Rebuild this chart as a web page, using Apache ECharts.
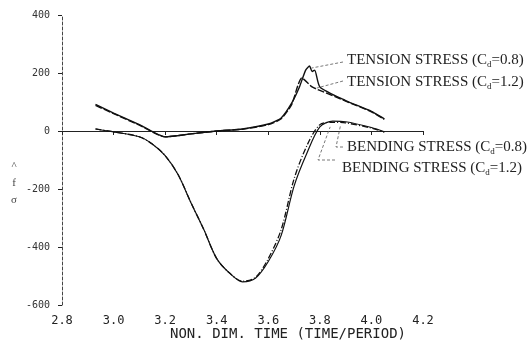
<!DOCTYPE html>
<html lang="en">
<head>
  <meta charset="UTF-8">
  <script src="https://cdn.jsdelivr.net/npm/echarts@6/dist/echarts.min.js"></script>
  <style>
    body { margin: 0; background: #fff; }
    #container { width: 530px; height: 341px; }
  </style>
</head>
<body>
  <div id="container"></div>
  <script>
    // time axis (non-dimensional time) and stress values
    var timeTension08 = [2.93, 3.0, 3.1, 3.2, 3.3, 3.4, 3.5, 3.6, 3.65, 3.69, 3.72, 3.745, 3.76, 3.77, 3.78, 3.8, 3.9, 4.0, 4.05];
    var tension08 = [92, 62, 22, -20, -10, 0, 7, 24, 45, 95, 150, 210, 224, 205, 210, 152, 105, 68, 42];
    var timeTension12 = [2.93, 3.0, 3.1, 3.2, 3.3, 3.4, 3.5, 3.6, 3.65, 3.69, 3.73, 3.77, 3.8, 3.9, 4.0, 4.05];
    var tension12 = [88, 60, 20, -20, -10, 0, 6, 22, 42, 90, 183, 152, 140, 103, 66, 40];
    var timeBending08 = [2.93, 3.0, 3.1, 3.15, 3.2, 3.25, 3.3, 3.35, 3.4, 3.45, 3.5, 3.55, 3.6, 3.65, 3.7, 3.75, 3.8, 3.85, 3.9, 4.0, 4.05];
    var bending08 = [7, -3, -20, -45, -85, -150, -247, -340, -440, -490, -520, -508, -450, -360, -190, -76, 14, 34, 32, 12, -3];
    var timeBending12 = [2.93, 3.0, 3.1, 3.15, 3.2, 3.25, 3.3, 3.35, 3.4, 3.45, 3.5, 3.55, 3.6, 3.65, 3.7, 3.75, 3.8, 3.85, 3.9, 4.0, 4.05];
    var bending12 = [7, -3, -20, -45, -85, -150, -247, -340, -440, -490, -518, -505, -440, -340, -165, -50, 22, 30, 28, 10, -4];

    var seriesNames = ['TENSION STRESS (Cd=0.8)', 'TENSION STRESS (Cd=1.2)', 'BENDING STRESS (Cd=0.8)', 'BENDING STRESS (Cd=1.2)'];

    function pairs(xs, ys) {
      var res = [];
      for (var i = 0; i < xs.length; i++) res.push([xs[i], ys[i]]);
      return res;
    }

    var myChart = echarts.init(document.getElementById('container'));
    var monoFont = '"DejaVu Sans Mono", monospace';
    var serifFont = '"Liberation Serif", serif';

    var option = {
      animation: false,
      grid: { left: 62, right: 107, top: 15, bottom: 36 },
      xAxis: {
        type: 'value',
        min: 2.8, max: 4.2, interval: 0.2,
        splitLine: { show: false },
        axisLine: { lineStyle: { color: '#222', width: 1 } },
        axisTick: { length: 4, lineStyle: { color: '#222' } },
        axisLabel: {
          color: '#222', fontFamily: monoFont, fontSize: 12, margin: 10,
          formatter: function (v) { return v.toFixed(1); }
        }
      },
      yAxis: {
        type: 'value',
        min: -600, max: 400, interval: 200,
        splitLine: { show: false },
        axisLine: { show: true, lineStyle: { color: '#444', width: 1, type: [3, 2] } },
        axisTick: { show: true, length: 4, lineStyle: { color: '#222' } },
        axisLabel: { color: '#333', fontFamily: monoFont, fontSize: 10, margin: 12 }
      },
      series: [
        {
          name: seriesNames[0], type: 'line', symbol: 'none', smooth: 0.2,
          data: pairs(timeTension08, tension08),
          lineStyle: { color: '#111', width: 1.4 }
        },
        {
          name: seriesNames[1], type: 'line', symbol: 'none', smooth: 0.2,
          data: pairs(timeTension12, tension12),
          lineStyle: { color: '#111', width: 1.4, type: [7, 2] }
        },
        {
          name: seriesNames[2], type: 'line', symbol: 'none', smooth: 0.3,
          data: pairs(timeBending08, bending08),
          lineStyle: { color: '#111', width: 1.2 }
        },
        {
          name: seriesNames[3], type: 'line', symbol: 'none', smooth: 0.3,
          data: pairs(timeBending12, bending12),
          lineStyle: { color: '#111', width: 1.3, type: [6, 2, 1, 2] }
        }
      ]
    };
    myChart.setOption(option);

    // labels with leader lines pointing to the curves
    function px(x, y) { return myChart.convertToPixel({ gridIndex: 0 }, [x, y]); }
    function richLabel(x, y, kind, cd) {
      return {
        type: 'text', x: x, y: y, z: 10,
        style: {
          text: '{t|' + kind + ' (C}{s|d}{t|=' + cd + ')}',
          verticalAlign: 'middle',
          rich: {
            t: { fontFamily: serifFont, fontSize: 15, fill: '#222' },
            s: { fontFamily: serifFont, fontSize: 9, fill: '#222', padding: [10, 0, 0, 0] }
          }
        }
      };
    }
    function leader(points) {
      return {
        type: 'polyline', z: 10,
        shape: { points: points },
        style: { stroke: '#555', lineWidth: 0.8, lineDash: [3, 2], fill: null }
      };
    }
    var t08 = px(3.76, 224), t12 = px(3.78, 148), b08 = px(3.88, 33), b12 = px(3.84, 28);
    myChart.setOption({
      graphic: [
        richLabel(347, 60, 'TENSION STRESS', '0.8'),
        richLabel(347, 82, 'TENSION STRESS', '1.2'),
        richLabel(347, 147, 'BENDING STRESS', '0.8'),
        richLabel(342, 168, 'BENDING STRESS', '1.2'),
        leader([[343, 62], [t08[0] + 2, t08[1] + 2]]),
        leader([[343, 81], [t12[0] + 2, t12[1]]]),
        leader([[343, 147], [336, 147], [b08[0], b08[1] + 4]]),
        leader([[335, 160], [318, 160], [b12[0], b12[1] + 4]]),
        {
          type: 'text', x: 288, y: 334, z: 10,
          style: {
            text: 'NON. DIM. TIME (TIME/PERIOD)', align: 'center', verticalAlign: 'middle',
            fontFamily: monoFont, fontSize: 14, fill: '#222'
          }
        },
        {
          type: 'text', x: 14, y: 183, z: 10,
          style: {
            text: '^\nf\nσ', align: 'center', verticalAlign: 'middle', lineHeight: 17,
            fontFamily: serifFont, fontSize: 11, fill: '#444'
          }
        }
      ]
    });
  </script>
</body>
</html>
